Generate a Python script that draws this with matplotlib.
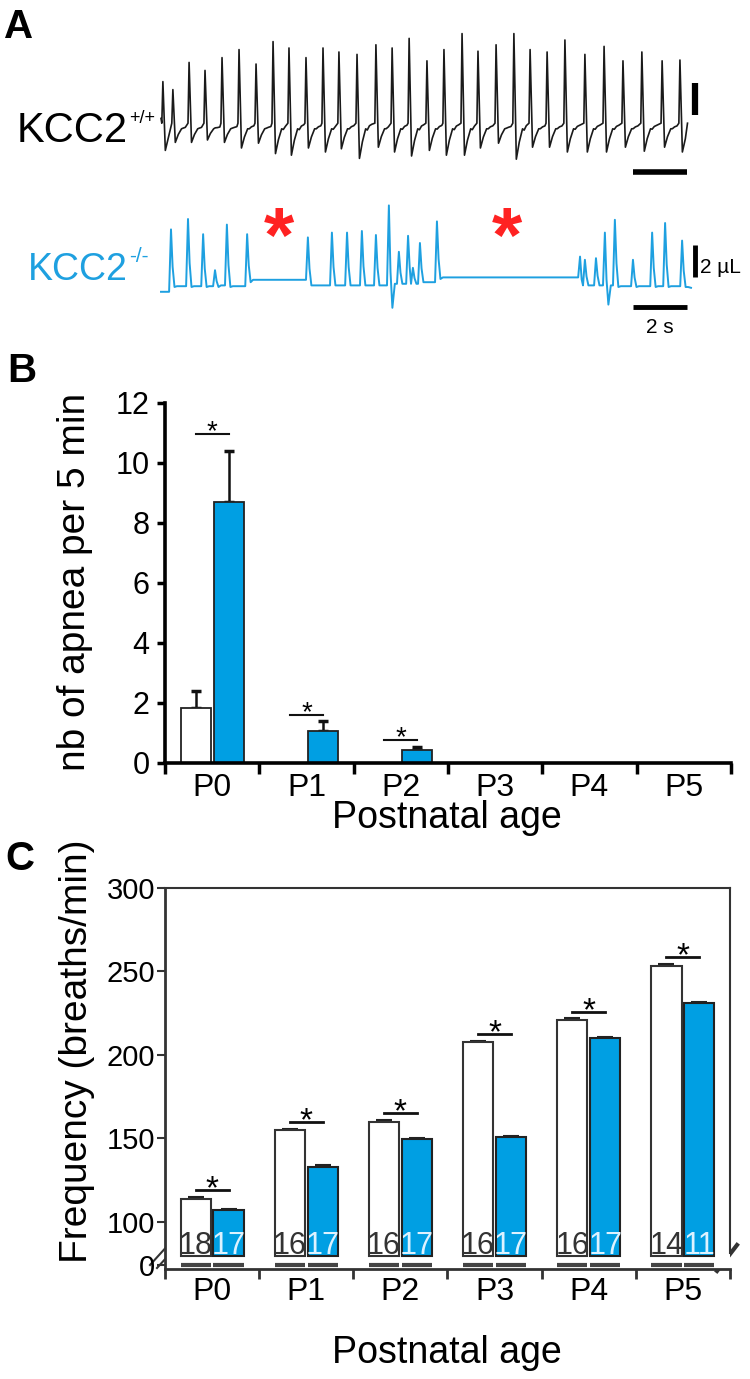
import numpy as np
import matplotlib
matplotlib.use('Agg')
import matplotlib.pyplot as plt

plt.rcParams['font.family'] = ['Liberation Sans', 'DejaVu Sans']

W, H = 750, 1379
BLUE = '#009FE3'
TRACE_BLUE = '#1EA0E0'

# ---- panel A : respiratory traces (time in s, volume in uL) ----
wt_peak_t = [0.07, 0.44, 1.04, 1.63, 2.26, 2.89, 3.52, 4.15, 4.74, 5.37, 6.00,
             6.59, 7.26, 7.96, 8.56, 9.19, 9.85, 10.48, 11.15, 11.74, 12.41,
             13.07, 13.67, 14.30, 14.96, 15.70, 16.41, 17.11, 17.81, 18.56, 19.22]
wt_peak_v = [2.9, 2.4, 4.1, 3.6, 4.4, 4.9, 4.0, 5.4, 5.0, 4.4, 5.0, 4.75, 4.6,
             5.2, 5.0, 5.6, 4.2, 4.9, 5.9, 4.8, 5.2, 5.9, 4.9, 4.75, 5.5, 4.6,
             5.1, 4.2, 4.75, 4.2, 4.25]
wt_trough_v = [-1.4, -0.9, -0.9, -0.75, -0.9, -1.25, -0.95, -1.6, -1.7, -1.25,
               -1.5, -1.3, -1.9, -1.2, -1.5, -1.75, -1.4, -1.7, -1.7, -1.25,
               -0.95, -1.95, -1.2, -1.2, -1.5, -1.5, -1.5, -1.2, -1.45, -1.2, -1.5]

ko_peak_t = [0.37, 1.00, 1.56, 2.00, 2.44, 3.19, 5.44, 6.33, 6.89, 7.44, 7.96,
             8.44, 8.81, 9.15, 9.33, 9.59, 10.22, 15.52, 15.70, 16.11, 16.44,
             16.81, 17.48, 18.19, 18.67, 19.30]
ko_peak_v = [3.6, 4.25, 3.3, 1.05, 3.9, 3.3, 3.1, 3.4, 3.4, 3.5, 3.25, 5.1, 2.2,
             3.2, 1.2, 2.75, 4.1, 1.9, 1.7, 1.8, 3.4, 4.2, 1.7, 3.4, 4.0, 2.9]
ko_trough_v = [0.0, 0.0, 0.0, 0.0, 0.0, 0.3, 0.1, 0.1, 0.1, 0.1, 0.1, -1.3, 0.2,
               0.2, 0.2, 0.3, 0.5, -0.3, 0.1, 0.1, -1.1, 0.0, 0.0, 0.0, 0.0, 0.0]
ko_base_v = [0.05, 0.05, 0.05, 0.1, 0.05, 0.45, 0.1, 0.1, 0.1, 0.1, 0.1, 0.2, 0.2,
             0.2, 0.2, 0.3, 0.6, 0.1, 0.1, 0.1, 0.1, 0.05, 0.05, 0.05, 0.05, 0.0]

# ---- panel B : apnea counts ----
ages = ['P0', 'P1', 'P2', 'P3', 'P4', 'P5']
apnea_wt = [1.85, 0, 0, 0, 0, 0]
apnea_wt_err = [0.55, 0, 0, 0, 0, 0]
apnea_ko = [8.7, 1.07, 0.45, 0, 0, 0]
apnea_ko_err = [1.7, 0.33, 0.1, 0, 0, 0]
apnea_sig = [0, 1, 2]
apnea_sig_y = [10.97, 1.6, 0.77]

# ---- panel C : breathing frequency ----
freq_wt = [114, 155, 160, 207.5, 221, 253.5]
freq_wt_err = [0.8, 0.9, 0.8, 0.8, 1.0, 0.8]
freq_ko = [107, 133, 149.5, 151, 210, 231]
freq_ko_err = [0.6, 0.8, 0.6, 0.7, 0.5, 0.5]
n_wt = [18, 16, 16, 16, 16, 14]
n_ko = [17, 17, 17, 17, 17, 11]


def R(l, t, r, b):
    return [l / W, 1 - b / H, (r - l) / W, (b - t) / H]


def wt_trace(tp, pk, tr, end_t):
    ts, vs = [0.0], [0.6]
    shape = [(0.09, 1.0), (0.2, 0.45), (0.32, 0.0), (0.38, 0.12), (0.46, -0.1), (0.55, -0.15)]
    for i, t in enumerate(tp):
        nxt = tp[i + 1] if i + 1 < len(tp) else end_t + 0.1
        if t - 0.04 > ts[-1]:
            ts.append(t - 0.04); vs.append(0.3)
        ts.append(t); vs.append(pk[i])
        for dt, f in shape:
            if t + dt < nxt - 0.06 and t + dt < end_t:
                ts.append(t + dt)
                vs.append(tr[i] * f if f > 0.2 else tr[i] * f - 0.15 * (f <= 0) + 0.1)
    ts.append(end_t); vs.append(0.3)
    return np.array(ts), np.array(vs)


def ko_trace(tp, pk, tr, base, start_v, end_t, end_v):
    ts, vs = [0.0], [start_v]
    prev = start_v
    for i, t in enumerate(tp):
        nxt = tp[i + 1] if i + 1 < len(tp) else end_t
        ts.append(t - 0.07); vs.append(prev)
        ts.append(t); vs.append(pk[i])
        for dt, v in [(0.06, 0.35 * pk[i] + 0.65 * tr[i]), (0.13, tr[i]), (0.22, base[i])]:
            if t + dt < nxt - 0.08:
                ts.append(t + dt); vs.append(v)
        prev = base[i]
    ts.append(end_t); vs.append(end_v)
    return np.array(ts), np.array(vs)


fig = plt.figure(figsize=(W / 100, H / 100), dpi=100)
ov = fig.add_axes([0, 0, 1, 1])
ov.set_xlim(0, W)
ov.set_ylim(H, 0)
ov.axis('off')
ov.patch.set_visible(False)

t0, pxs = 161, 27.0   # trace start (px) and px per second
axW = fig.add_axes(R(150, 20, 710, 185))
axW.set_xlim((150 - t0) / pxs, (710 - t0) / pxs)
axW.set_ylim((128 - 185) / 16, (128 - 20) / 16)
axW.axis('off')
ts, vs = wt_trace(wt_peak_t, wt_peak_v, wt_trough_v, 19.5)
axW.plot(ts, vs, color='#1a1a1a', lw=1.2)
xb = (695 - t0) / pxs
axW.plot([xb, xb], [0.8, 0.8 + 2], color='k', lw=4.5, solid_capstyle='butt')
axW.plot([xb - 2.3, xb - 0.3], [-2.75, -2.75], color='k', lw=4, solid_capstyle='butt')

axK = fig.add_axes(R(150, 190, 710, 345))
axK.set_xlim((150 - t0) / pxs, (710 - t0) / pxs)
axK.set_ylim((287 - 345) / 16, (287 - 190) / 16)
axK.axis('off')
ts, vs = ko_trace(ko_peak_t, ko_peak_v, ko_trough_v, ko_base_v, -0.3, 19.63, -0.05)
axK.plot(ts, vs, color=TRACE_BLUE, lw=1.4)
axK.plot([xb, xb], [0.6, 0.6 + 2], color='k', lw=3.5, solid_capstyle='butt')
axK.plot([xb - 2.3, xb - 0.3], [-1.25, -1.25], color='k', lw=3.5, solid_capstyle='butt')
axK.text(xb - 1.3, -2.55, '2 s', ha='center', va='center', fontsize=15)
axK.text(xb + 0.2, 1.2, '2 µL', ha='left', va='center', fontsize=15)

ov.text(4, 38, 'A', fontsize=29, fontweight='bold', ha='left', va='baseline')
ov.text(128, 142, 'KCC2', fontsize=30, ha='right', va='baseline')
ov.text(129, 123, '+/+', fontsize=13, ha='left', va='baseline')
ov.text(128, 280, 'KCC2', fontsize=27, ha='right', va='baseline', color=TRACE_BLUE)
ov.text(129, 262, '-/-', fontsize=15, ha='left', va='baseline', color=TRACE_BLUE)
for sx in [279, 507]:
    ov.text(sx, 217 + 0.58 * 56 * 100 / 72, '*', fontsize=56, fontweight='bold',
            color='#FF2222', ha='center', va='baseline')

# ---- B ----
x = np.arange(len(ages))
off, bw = 0.175, 0.32
axB = fig.add_axes(R(165, 403, 731, 763))
axB.set_xlim(-0.5, 5.5)
axB.set_ylim(0, 12)
for s in ['top', 'right']:
    axB.spines[s].set_visible(False)
for s in ['left', 'bottom']:
    axB.spines[s].set_linewidth(2.6)
axB.bar(x - off, apnea_wt, bw, color='white', edgecolor='#222222', lw=1.3, zorder=2)
axB.bar(x + off, apnea_ko, bw, color=BLUE, edgecolor='#222222', lw=1.3, zorder=2)
for xs, h, e in [(x - off, apnea_wt, apnea_wt_err), (x + off, apnea_ko, apnea_ko_err)]:
    k = [i for i in range(len(h)) if e[i] > 0]
    axB.errorbar(xs[k], np.array(h)[k], yerr=[np.zeros(len(k)), np.array(e)[k]], fmt='none',
                 ecolor='#111111', elinewidth=1.8, capsize=3.5, capthick=2.5, zorder=1)
for i, yv in zip(apnea_sig, apnea_sig_y):
    axB.plot([i - off, i + off], [yv, yv], color='#111111', lw=1.5)
    axB.annotate('*', (i, yv), xytext=(0, -3.5), textcoords='offset points',
                 ha='center', va='baseline', fontsize=20)
axB.set_yticks(range(0, 13, 2))
axB.tick_params(axis='y', direction='out', length=6, width=2.5, pad=5, labelsize=22)
axB.set_xticks(np.arange(-0.5, 6, 1))
axB.set_xticklabels([])
axB.set_xticks(x, minor=True)
axB.set_xticklabels(ages, minor=True)
axB.tick_params(axis='x', which='major', direction='out', length=8, width=2.5)
axB.tick_params(axis='x', which='minor', length=0, pad=7, labelsize=23)
ov.text(7, 382, 'B', fontsize=29, fontweight='bold', ha='left', va='baseline')
ov.text(75, 582, 'nb of apnea per 5 min', rotation=90, ha='center', va='center', fontsize=28)
ov.text(447, 828, 'Postnatal age', ha='center', va='baseline', fontsize=27)

# ---- C ----
floor, zero_lvl = 79.6, 74.2
axC = fig.add_axes(R(165, 888, 730, 1269))
axC.set_xlim(-0.5, 5.5)
axC.set_ylim(71.8, 300)
for s in ['left', 'bottom']:
    axC.spines[s].set_linewidth(2.0)
    axC.spines[s].set_color('#333333')
for s in ['top', 'right']:
    axC.spines[s].set_linewidth(1.5)
    axC.spines[s].set_color('#333333')
axC.spines['right'].set_bounds(81.4, 300)
axC.bar(x - off, np.array(freq_wt) - floor, bw, bottom=floor, color='white',
        edgecolor='#333333', lw=1.5, zorder=2)
axC.bar(x + off, np.array(freq_ko) - floor, bw, bottom=floor, color=BLUE,
        edgecolor='#222222', lw=1.5, zorder=2)
axC.errorbar(x - off, freq_wt, yerr=[np.zeros(6), freq_wt_err], fmt='none',
             ecolor='#222222', elinewidth=1.2, capsize=6, capthick=1.5, zorder=1)
axC.errorbar(x + off, freq_ko, yerr=[np.zeros(6), freq_ko_err], fmt='none',
             ecolor='#222222', elinewidth=1.2, capsize=6, capthick=1.5, zorder=1)
axC.hlines([zero_lvl] * 6, x - off - bw / 2, x - off + bw / 2, color='#444444', lw=3)
axC.hlines([zero_lvl] * 6, x + off - bw / 2, x + off + bw / 2, color='#444444', lw=3)
num_font = ['Liberation Sans Narrow', 'Liberation Sans', 'DejaVu Sans']
for i in range(len(ages)):
    yv = freq_wt[i] + 5
    axC.plot([i - off, i + off], [yv, yv], color='#111111', lw=2)
    axC.annotate('*', (i, yv), xytext=(0, -6), textcoords='offset points',
                 ha='center', va='baseline', fontsize=24)
    axC.text(i - off, floor + 1.0, str(n_wt[i]), ha='center', va='baseline',
             fontsize=22, color='#333333', family=num_font, zorder=3)
    axC.text(i + off, floor + 1.0, str(n_ko[i]), ha='center', va='baseline',
             fontsize=22, color='#DDF2FF', family=num_font, zorder=3)
axC.set_yticks([zero_lvl, 100, 150, 200, 250, 300])
axC.set_yticklabels(['0', '100', '150', '200', '250', '300'])
axC.tick_params(axis='y', direction='out', length=6, width=1.5, pad=1, labelsize=21,
                color='#333333')
axC.set_xticks(np.arange(-0.5, 6, 1))
axC.set_xticklabels([])
axC.set_xticks(x, minor=True)
axC.set_xticklabels(ages, minor=True)
axC.tick_params(axis='x', which='major', direction='out', length=7, width=2, color='#333333')
axC.tick_params(axis='x', which='minor', length=0, pad=6, labelsize=23)
ov.plot([150, 170], [1265, 1243], color='#333333', lw=1.5)
ov.plot([157, 177], [1268, 1246], color='#333333', lw=1.5)
ov.plot([717, 737], [1271, 1245], color='#333333', lw=3)
ov.text(5, 870, 'C', fontsize=29, fontweight='bold', ha='left', va='baseline')
ov.text(77, 1051, 'Frequency (breaths/min)', rotation=90, ha='center', va='center', fontsize=28)
ov.text(447, 1363, 'Postnatal age', ha='center', va='baseline', fontsize=27)

fig.savefig('out.png', dpi=100)
